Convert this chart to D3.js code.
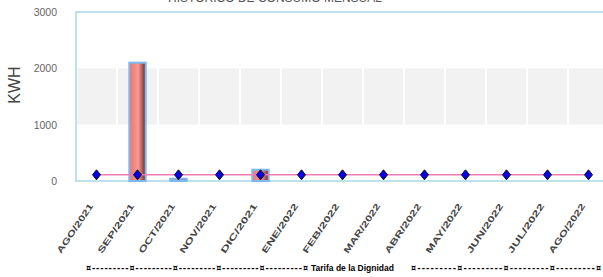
<!DOCTYPE html>
<html>
<head>
<meta charset="utf-8">
<script src="https://cdn.jsdelivr.net/npm/d3@7"></script>
<style>
  body { margin: 0; background: #fff; }
  svg { display: block; font-family: "Liberation Sans", Arial, sans-serif; }
</style>
</head>
<body>
<svg width="603" height="277"></svg>
<script>
// datos del grafico
var meses = ["AGO/2021", "SEP/2021", "OCT/2021", "NOV/2021", "DIC/2021", "ENE/2022", "FEB/2022",
             "MAR/2022", "ABR/2022", "MAY/2022", "JUN/2022", "JUL/2022", "AGO/2022"];
var consumo = [0, 2100, 40, 0, 200, 0, 0, 0, 0, 0, 0, 0, 0];
var tarifa = [110, 110, 110, 110, 110, 110, 110, 110, 110, 110, 110, 110, 110];
var yTicks = [0, 1000, 2000, 3000];

var svg = d3.select("svg");
// ojo: "top" es una global del navegador, por eso otros nombres
var margen = { izq: 76, arriba: 12, abajo: 181, der: 76 + 13 * 41 };

var x = d3.scaleBand().domain(meses).range([margen.izq, margen.der])
    .paddingInner(0.6).paddingOuter(0.3);
var y = d3.scaleLinear().domain([0, 3000]).range([margen.abajo, margen.arriba]);

var defs = svg.append("defs");
var grad = defs.append("linearGradient").attr("id", "barra");
grad.append("stop").attr("offset", "0%").attr("stop-color", "#e87474");
grad.append("stop").attr("offset", "55%").attr("stop-color", "#f49a92");
grad.append("stop").attr("offset", "100%").attr("stop-color", "#6e2424");

// banda gris entre 1000 y 2000, partida por mes
svg.append("g").selectAll("rect")
    .data(meses)
    .enter().append("rect")
    .attr("x", function (d) { return x(d) - x.step() * x.paddingInner() / 2 + 1; })
    .attr("y", y(2000))
    .attr("width", x.step() - 2)
    .attr("height", y(1000) - y(2000))
    .attr("fill", "#f2f2f2");

// marco
svg.append("rect")
    .attr("x", margen.izq).attr("y", margen.arriba)
    .attr("width", margen.der - margen.izq).attr("height", margen.abajo - margen.arriba)
    .attr("fill", "none").attr("stroke", "#bfe0ee").attr("stroke-width", 2);

// eje y
var yAxis = svg.append("g")
    .attr("transform", "translate(" + (margen.izq - 19) + ",0)")
    .call(d3.axisLeft(y).tickValues(yTicks).tickSize(0).tickPadding(0).tickFormat(d3.format("d")));
yAxis.select(".domain").remove();
yAxis.selectAll("text").attr("fill", "#666").attr("font-size", 10.5).attr("font-family", "Liberation Sans, Arial, sans-serif");

svg.append("text")
    .attr("transform", "translate(20,85) rotate(-90)")
    .attr("text-anchor", "middle")
    .attr("font-size", 16)
    .attr("fill", "#444")
    .text("KWH");

// barras
svg.append("g").selectAll("rect")
    .data(meses.filter(function (m, i) { return consumo[i] > 0; }))
    .enter().append("rect")
    .attr("x", function (m) { return x(m); })
    .attr("y", function (m) { return y(consumo[meses.indexOf(m)]); })
    .attr("width", x.bandwidth())
    .attr("height", function (m) { return margen.abajo - y(consumo[meses.indexOf(m)]); })
    .attr("fill", "url(#barra)")
    .attr("stroke", "#7db8ee")
    .attr("stroke-width", 2);

// linea tarifa
var linea = d3.line()
    .x(function (d, i) { return x(meses[i]) + x.bandwidth() / 2; })
    .y(function (d) { return y(d); });

svg.append("path")
    .datum(tarifa)
    .attr("fill", "none")
    .attr("stroke", "#f07cb4")
    .attr("stroke-width", 1.5)
    .attr("d", linea);

svg.append("g").selectAll("path")
    .data(tarifa)
    .enter().append("path")
    .attr("transform", function (d, i) {
        return "translate(" + (x(meses[i]) + x.bandwidth() / 2) + "," + y(d) + ")";
    })
    .attr("d", "M0,-5L4,0L0,5L-4,0Z")
    .attr("fill", "#0000ee")
    .attr("stroke", "#111")
    .attr("stroke-width", 1);

// etiquetas x
svg.append("g").selectAll("text")
    .data(meses)
    .enter().append("text")
    .attr("transform", function (d) {
        return "translate(" + (x(d) + x.bandwidth() / 2 - 3) + ",206) rotate(-56)";
    })
    .attr("text-anchor", "end")
    .attr("font-size", 8.5)
    .attr("font-weight", "bold")
    .attr("fill", "#444")
    .attr("textLength", 58)
    .attr("lengthAdjust", "spacingAndGlyphs")
    .text(function (d) { return d; });

// titulo
svg.append("text")
    .attr("x", 275).attr("y", 2)
    .attr("text-anchor", "middle")
    .attr("font-size", 12)
    .attr("fill", "#555")
    .text("HISTORICO DE CONSUMO MENSUAL");

// leyenda
svg.append("text")
    .attr("x", 86).attr("y", 271)
    .attr("font-family", "DejaVu Sans, sans-serif")
    .attr("font-size", 8)
    .attr("font-weight", "bold")
    .attr("textLength", 222)
    .text("¤---------¤---------¤---------¤---------¤---------¤");
svg.append("text")
    .attr("x", 311).attr("y", 271)
    .attr("font-size", 8.5)
    .attr("font-weight", "bold")
    .text("Tarifa de la Dignidad");
svg.append("text")
    .attr("x", 411).attr("y", 271)
    .attr("font-family", "DejaVu Sans, sans-serif")
    .attr("font-size", 8)
    .attr("font-weight", "bold")
    .attr("textLength", 190)
    .text("¤---------¤---------¤---------¤---------¤");
</script>
</body>
</html>
